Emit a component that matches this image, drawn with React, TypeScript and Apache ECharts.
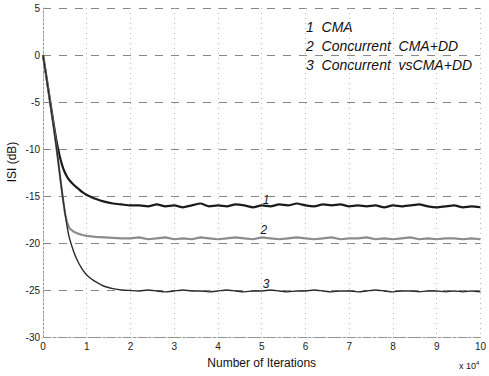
import React, { useEffect, useRef } from "react";
import * as echarts from "echarts";

// x positions (×10^4 iterations)
const earlyX = [0, 0.05, 0.1, 0.15, 0.2, 0.25, 0.3, 0.35, 0.4, 0.45, 0.5, 0.55, 0.6, 0.7, 0.8, 0.9, 1.0, 1.1, 1.2, 1.4, 1.6, 1.8, 2.0];
const plateauX = [2.2, 2.4, 2.6, 2.8, 3.0, 3.2, 3.4, 3.6, 3.8, 4.0, 4.2, 4.4, 4.6, 4.8, 5.0, 5.2, 5.4, 5.6, 5.8, 6.0, 6.2, 6.4, 6.6, 6.8, 7.0, 7.2, 7.4, 7.6, 7.8, 8.0, 8.2, 8.4, 8.6, 8.8, 9.0, 9.2, 9.4, 9.6, 9.8, 10.0];

// Curve 1: CMA
const cmaEarly = [0, -1.5, -3, -4.5, -6, -7.5, -8.9, -10.1, -11.1, -11.9, -12.5, -12.95, -13.3, -13.8, -14.2, -14.6, -14.9, -15.1, -15.3, -15.6, -15.8, -15.9, -16.0];
const cmaPlateau = [-16.0, -16.1, -15.9, -16.1, -16.0, -16.2, -16.0, -15.8, -16.1, -16.0, -16.1, -15.9, -16.0, -16.2, -16.0, -16.1, -15.9, -16.0, -15.8, -16.0, -16.1, -15.9, -16.0, -15.9, -16.1, -16.0, -16.1, -16.0, -16.2, -16.0, -16.1, -16.0, -15.9, -16.1, -16.2, -16.1, -16.0, -16.2, -16.1, -16.2];

// Curve 2: Concurrent CMA+DD
const ccmaEarly = [0, -1.5, -3.1, -4.7, -6.3, -7.9, -9.6, -11.4, -13.3, -15.1, -16.8, -17.8, -18.4, -18.8, -19.0, -19.15, -19.25, -19.3, -19.35, -19.4, -19.45, -19.5, -19.5];
const ccmaPlateau = [-19.4, -19.6, -19.5, -19.4, -19.6, -19.5, -19.6, -19.4, -19.5, -19.6, -19.5, -19.4, -19.5, -19.6, -19.4, -19.5, -19.6, -19.5, -19.4, -19.5, -19.6, -19.5, -19.4, -19.6, -19.5, -19.5, -19.4, -19.6, -19.5, -19.6, -19.5, -19.4, -19.6, -19.5, -19.6, -19.5, -19.5, -19.6, -19.5, -19.6];

// Curve 3: Concurrent vsCMA+DD
const vsEarly = [0, -1.5, -3.1, -4.7, -6.3, -7.9, -9.6, -11.4, -13.3, -15.1, -16.7, -18.2, -19.4, -20.9, -22.0, -22.8, -23.4, -23.8, -24.1, -24.6, -24.85, -25.0, -25.05];
const vsPlateau = [-25.1, -25.0, -25.1, -25.2, -25.1, -25.0, -25.1, -25.1, -25.2, -25.1, -25.0, -25.1, -25.2, -25.1, -25.1, -25.0, -25.1, -25.2, -25.1, -25.1, -25.0, -25.1, -25.2, -25.1, -25.1, -25.2, -25.1, -25.0, -25.1, -25.2, -25.1, -25.1, -25.2, -25.1, -25.1, -25.2, -25.1, -25.2, -25.1, -25.2];

const yTicks = [5, 0, -5, -10, -15, -20, -25, -30];
const legendLines = ["1  CMA", "2  Concurrent  CMA+DD", "3  Concurrent  vsCMA+DD"];
const curveTags = [
  { name: "1", x: 5.1, y: -15.4 },
  { name: "2", x: 5.05, y: -18.6 },
  { name: "3", x: 5.1, y: -24.4 },
];

const zip = (xs: number[], ys: number[]) => xs.map((x, i) => [x, ys[i]]);

const FONT = "'Liberation Sans', Arial, sans-serif";

export default function App() {
  const ref = useRef<HTMLDivElement>(null);
  useEffect(() => {
    if (!ref.current) return;
    const chart = echarts.init(ref.current, null, { renderer: "svg" });
    const allX = earlyX.concat(plateauX);
    const s1 = zip(allX, cmaEarly.concat(cmaPlateau));
    const s2 = zip(allX, ccmaEarly.concat(ccmaPlateau));
    const s3 = zip(allX, vsEarly.concat(vsPlateau));
    const mk = (tag: { name: string; x: number; y: number }) => ({
      symbol: "circle",
      symbolSize: 0,
      silent: true,
      data: [
        {
          coord: [tag.x, tag.y],
          label: {
            show: true,
            position: "inside",
            formatter: tag.name,
            fontStyle: "italic",
            fontSize: 12,
            color: "#111",
            fontFamily: FONT,
          },
        },
      ],
    });
    chart.setOption({
      animation: false,
      backgroundColor: "#fff",
      grid: { left: 43, right: 6, top: 8, bottom: 39 },
      xAxis: {
        type: "value",
        min: 0,
        max: 10,
        interval: 1,
        name: "Number of Iterations",
        nameLocation: "middle",
        nameGap: 20,
        nameTextStyle: { fontSize: 12, color: "#111", fontFamily: FONT },
        axisLine: { show: true, onZero: false, lineStyle: { color: "#999", type: [3, 2], width: 1 } },
        axisTick: { show: false },
        axisLabel: { fontSize: 10, color: "#222", fontFamily: FONT, margin: 4 },
        splitLine: { show: true, lineStyle: { color: "#bbb", type: [1, 4], width: 1 } },
      },
      yAxis: {
        type: "value",
        min: -30,
        max: 5,
        interval: 5,
        axisLine: { show: true, onZero: false, lineStyle: { color: "#999", type: [2, 2], width: 1 } },
        axisTick: { show: false },
        axisLabel: {
          fontSize: 10,
          color: "#222",
          fontFamily: FONT,
          margin: 3,
          formatter: (v: number) => (yTicks.includes(v) ? String(v) : ""),
        },
        splitLine: { show: true, lineStyle: { color: "#888", type: [8, 8], width: 1 } },
      },
      series: [
        {
          type: "line",
          name: "CMA",
          data: s1,
          showSymbol: false,
          smooth: 0.2,
          lineStyle: { color: "#1a1a1a", width: 2.2 },
          markPoint: mk(curveTags[0]),
        },
        {
          type: "line",
          name: "Concurrent CMA+DD",
          data: s2,
          showSymbol: false,
          lineStyle: { color: "#8c8c8c", width: 2.2 },
          markPoint: mk(curveTags[1]),
        },
        {
          type: "line",
          name: "Concurrent vsCMA+DD",
          data: s3,
          showSymbol: false,
          smooth: 0.2,
          lineStyle: { color: "#2a2a2a", width: 1.4 },
          markPoint: mk(curveTags[2]),
        },
      ],
      graphic: [
        ...legendLines.map((t, i) => ({
          type: "text",
          left: 306,
          top: 20 + i * 19,
          style: { text: t, fontSize: 14, fontStyle: "italic", fill: "#111", fontFamily: FONT },
        })),
        {
          type: "text",
          x: 12,
          y: 162,
          rotation: Math.PI / 2,
          style: { text: "ISI (dB)", fontSize: 12, fill: "#111", fontFamily: FONT, align: "center", verticalAlign: "middle" },
        },
        {
          type: "text",
          left: 459,
          top: 360,
          style: {
            text: "x 10{s|4}",
            fontSize: 9,
            fill: "#111",
            fontFamily: FONT,
            rich: { s: { fontSize: 6, verticalAlign: "top", padding: [0, 0, 6, 0] } },
          },
        },
      ],
    });
    return () => chart.dispose();
  }, []);
  return <div ref={ref} style={{ width: 489, height: 376, position: "absolute", left: 0, top: 0 }} />;
}
